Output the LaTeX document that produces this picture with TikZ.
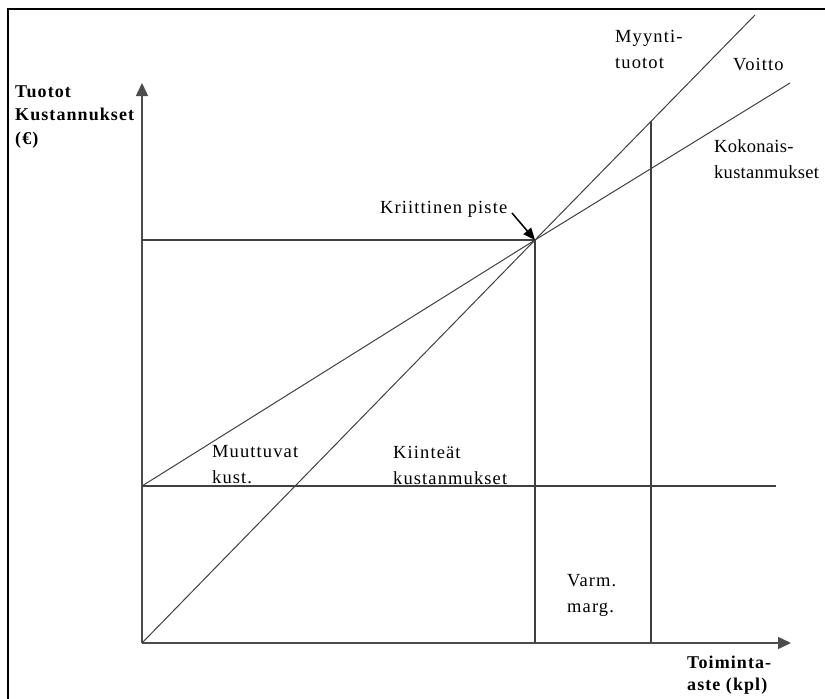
\documentclass[tikz,border=0pt]{standalone}
\usepackage{fontspec}
\setmainfont{Liberation Serif}[LetterSpace=6]
\newfontfamily\narrowserif{Liberation Serif}[LetterSpace=1.5]
\usetikzlibrary{arrows.meta}
\begin{document}
\begin{tikzpicture}[x=1pt,y=-1pt,
  lbl/.style={anchor=west,align=left,inner sep=0pt,font=\fontsize{18.5}{26}\selectfont},
  blbl/.style={lbl,font=\fontsize{18}{23.5}\selectfont\bfseries},
  axisline/.style={line width=1.5pt,draw=black!70,-{Triangle[length=13pt,width=12pt]}},
  guide/.style={line width=1.3pt,draw=black!75},
  curve/.style={line width=1pt,draw=black!75}]
\useasboundingbox (0,0) rectangle (825,699);
% frame
\draw[line width=2pt] (825,9) -- (8,9) -- (8,699);
% key points
\coordinate (O) at (142,643);
\coordinate (ytip) at (142,83);
\coordinate (xtip) at (791,643);
\coordinate (BE) at (535,240);
\coordinate (BEy) at (142,240);
\coordinate (BEx) at (535,643);
\coordinate (FCs) at (142,486);
\coordinate (FCe) at (776,486);
\coordinate (TCe) at (790,83);
\coordinate (REe) at (755,15);
\coordinate (SMtop) at (651,121);
\coordinate (SMbot) at (651,643);
\coordinate (kritstart) at (512,213);
% axes
\draw[axisline] (O) -- (ytip);
\draw[axisline] (O) -- (xtip);
% guides
\draw[guide] (BEy) -- (BE) -- (BEx);
\draw[guide] (FCs) -- (FCe);
\draw[guide] (SMbot) -- (SMtop);
% lines
\draw[curve] (FCs) -- (BE) -- (TCe);
\draw[curve] (O) -- (BE) -- (REe);
% labels
\node[blbl] (ylab) at (15,117) {Tuotot\\Kustannukset\\(€)};
\node[blbl,font=\fontsize{18}{22}\selectfont\bfseries] (xlab) at (687,675) {Toiminta-\\aste (kpl)};
\node[lbl] (myynti) at (615,49) {Myynti-\\tuotot};
\node[lbl] (voitto) at (733,65) {Voitto};
\node[lbl,font=\fontsize{18.5}{26}\narrowserif] (kok) at (714,159) {Kokonais-\\kustanmukset};
\node[lbl] (krit) at (380,209) {Kriittinen piste};
\node[lbl] (muut) at (212,465) {Muuttuvat\\kust.};
\node[lbl] (kiin) at (393,465) {Kiinteät\\kustanmukset};
\node[lbl] (varm) at (567,595) {Varm.\\marg.};
\draw[line width=1.5pt,-{Triangle[length=12pt,width=10pt]}] (kritstart) -- (BE);
\end{tikzpicture}
\end{document}
